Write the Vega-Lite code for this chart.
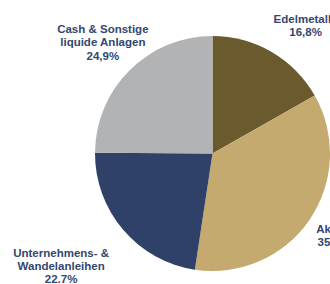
{
  "$schema": "https://vega.github.io/schema/vega-lite/v6.json",
  "autosize": "none",
  "padding": 0,
  "width": 425,
  "height": 307,
  "background": "white",
  "view": {"stroke": null},
  "data": {"values": [
    {"key": "Edelmetalle", "idx": 1, "value": 16.8, "label": "Edelmetalle\n16,8%"},
    {"key": "Aktien", "idx": 2, "value": 35.6, "label": "Aktien\n35,6%"},
    {"key": "Unternehmens", "idx": 3, "value": 22.7, "label": "Unternehmens- &\nWandelanleihen\n22.7%"},
    {"key": "Cash", "idx": 4, "value": 24.9, "label": "Cash & Sonstige\nliquide Anlagen\n24,9%"}
  ]},
  "encoding": {
    "theta": {"field": "value", "type": "quantitative", "stack": true},
    "order": {"field": "idx", "type": "quantitative"}
  },
  "layer": [
    {
      "mark": {"type": "arc", "outerRadius": 117.5},
      "encoding": {
        "color": {"field": "key", "type": "nominal", "legend": null,
          "scale": {"domain": ["Edelmetalle", "Aktien", "Unternehmens", "Cash"],
                    "range": ["#6B5A2E", "#C4AA6E", "#2F4069", "#B1B3B5"]}}
      }
    },
    {
      "mark": {"type": "text", "radius": 157, "dx": 14, "dy": 2, "font": "Liberation Sans", "fontWeight": "bold", "fontSize": 11.5, "lineHeight": 13.5, "color": "#34466E", "align": "center", "baseline": "middle", "lineBreak": "\n"},
      "encoding": {"text": {"condition": {"test": "datum.key === 'Edelmetalle'", "field": "label"}, "value": ""}}
    },
    {
      "mark": {"type": "text", "radius": 157, "dx": -8, "dy": -13, "font": "Liberation Sans", "fontWeight": "bold", "fontSize": 11.5, "lineHeight": 13.5, "color": "#34466E", "align": "center", "baseline": "middle", "lineBreak": "\n"},
      "encoding": {"text": {"condition": {"test": "datum.key === 'Aktien'", "field": "label"}, "value": ""}}
    },
    {
      "mark": {"type": "text", "radius": 157, "dx": -32, "dy": -1, "font": "Liberation Sans", "fontWeight": "bold", "fontSize": 11.5, "lineHeight": 13, "color": "#34466E", "align": "center", "baseline": "middle", "lineBreak": "\n"},
      "encoding": {"text": {"condition": {"test": "datum.key === 'Unternehmens'", "field": "label"}, "value": ""}}
    },
    {
      "mark": {"type": "text", "radius": 157, "dx": 1, "dy": -12.5, "font": "Liberation Sans", "fontWeight": "bold", "fontSize": 11.5, "lineHeight": 13.5, "color": "#34466E", "align": "center", "baseline": "middle", "lineBreak": "\n"},
      "encoding": {"text": {"condition": {"test": "datum.key === 'Cash'", "field": "label"}, "value": ""}}
    }
  ]
}
